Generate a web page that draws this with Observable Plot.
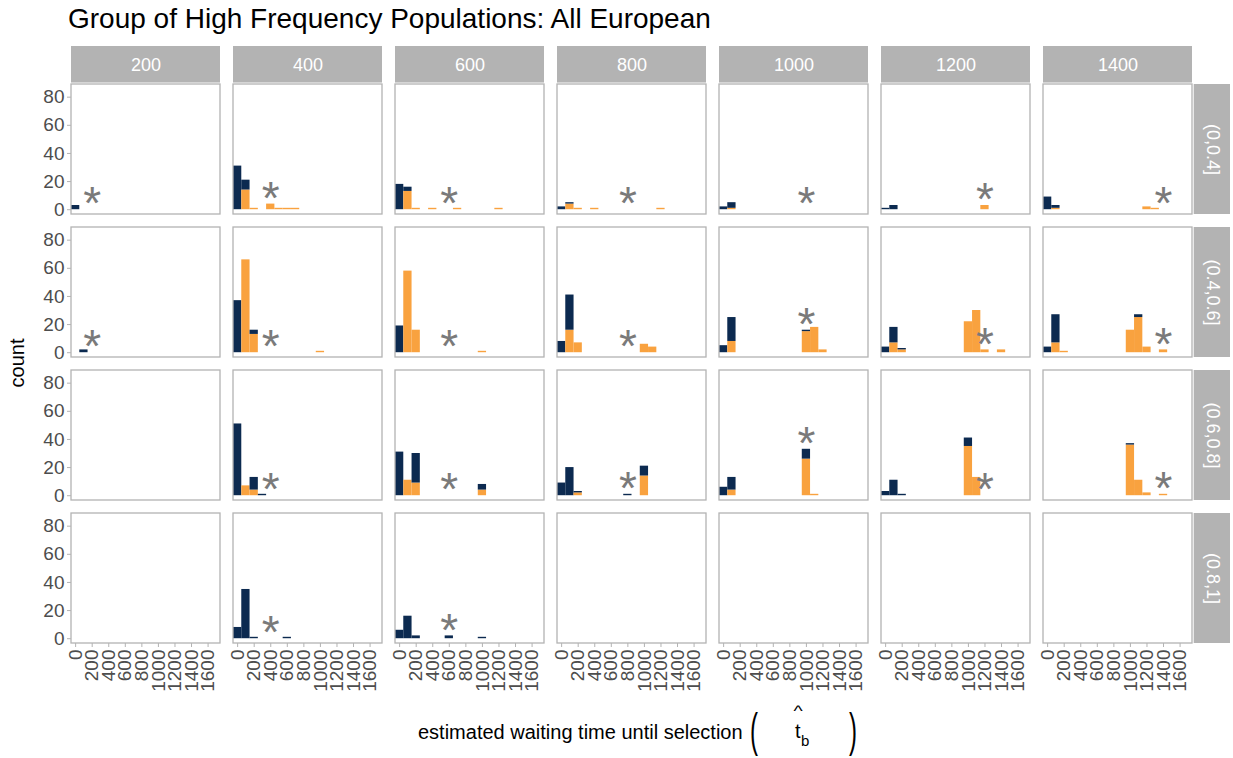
<!DOCTYPE html>
<html>
<head>
<meta charset="utf-8">
<script src="https://cdn.jsdelivr.net/npm/d3@7"></script>
<script src="https://cdn.jsdelivr.net/npm/@observablehq/plot@0.6"></script>
<style>
  body { margin: 0; background: #fff; font-family: "Liberation Sans", Arial, sans-serif; }
  #title { height: 40px; font-size: 28px; line-height: 38px; padding-left: 68px; color: #000; white-space: nowrap; }
</style>
</head>
<body>
<div id="title">Group of High Frequency Populations: All European</div>
<div id="chart"></div>
<script>
// Facet columns: true waiting time; facet rows: frequency class
const times = [200, 400, 600, 800, 1000, 1200, 1400];
const freqBins = ["(0,0.4]", "(0.4,0.6]", "(0.6,0.8]", "(0.8,1]"];
const xTicks = [0, 200, 400, 600, 800, 1000, 1200, 1400, 1600];
const yTicks = [0, 20, 40, 60, 80];
const binWidth = 100;

// Histogram counts per row: [true time, bin centre, dark count, light count]
const countsRow1 = [
  [200, 0, 3, 0],
  [400, 0, 31, 0], [400, 100, 7, 14], [400, 200, 0, 1], [400, 400, 0, 4],
  [400, 500, 0, 1], [400, 600, 0, 1], [400, 700, 0, 1],
  [600, 0, 18, 0], [600, 100, 3, 13], [600, 200, 0, 1], [600, 400, 0, 1],
  [600, 700, 0, 1], [600, 1200, 0, 1],
  [800, 0, 2, 0], [800, 100, 1, 4], [800, 200, 0, 1], [800, 400, 0, 1], [800, 1200, 0, 1],
  [1000, 0, 2, 0], [1000, 100, 4, 1],
  [1200, 0, 1, 0], [1200, 100, 3, 0], [1200, 1200, 0, 3],
  [1400, 0, 9, 0], [1400, 100, 2, 1], [1400, 1200, 0, 2], [1400, 1300, 0, 1]
];
const countsRow2 = [
  [200, 100, 2, 0],
  [400, 0, 37, 0], [400, 100, 0, 66], [400, 200, 3, 13], [400, 1000, 0, 1],
  [600, 0, 19, 0], [600, 100, 0, 58], [600, 200, 0, 16], [600, 1000, 0, 1],
  [800, 0, 8, 0], [800, 100, 25, 16], [800, 200, 0, 7], [800, 1000, 0, 6], [800, 1100, 0, 4],
  [1000, 0, 5, 0], [1000, 100, 17, 8], [1000, 1000, 1, 15], [1000, 1100, 0, 18], [1000, 1200, 0, 2],
  [1200, 0, 4, 0], [1200, 100, 11, 7], [1200, 200, 1, 2], [1200, 1000, 0, 22],
  [1200, 1100, 0, 30], [1200, 1200, 0, 2], [1200, 1400, 0, 2],
  [1400, 0, 4, 0], [1400, 100, 20, 7], [1400, 200, 0, 1], [1400, 1000, 0, 16],
  [1400, 1100, 2, 25], [1400, 1200, 0, 4], [1400, 1400, 0, 2]
];
const countsRow3 = [
  [400, 0, 51, 0], [400, 100, 0, 7], [400, 200, 9, 4], [400, 300, 1, 0],
  [600, 0, 31, 0], [600, 100, 0, 11], [600, 200, 21, 9], [600, 1000, 4, 4],
  [800, 0, 9, 0], [800, 100, 20, 0], [800, 200, 1, 2], [800, 800, 1, 0], [800, 1000, 7, 14],
  [1000, 0, 6, 0], [1000, 100, 9, 4], [1000, 1000, 7, 26], [1000, 1100, 0, 1],
  [1200, 0, 3, 0], [1200, 100, 11, 0], [1200, 200, 1, 0], [1200, 1000, 6, 35], [1200, 1100, 0, 13],
  [1400, 1000, 1, 36], [1400, 1100, 0, 11], [1400, 1200, 0, 2], [1400, 1400, 0, 1]
];
const countsRow4 = [
  [400, 0, 8, 0], [400, 100, 35, 0], [400, 200, 1, 0], [400, 600, 1, 0],
  [600, 0, 6, 0], [600, 100, 16, 0], [600, 200, 2, 0], [600, 600, 2, 0], [600, 1000, 1, 0]
];
const countsByRow = [countsRow1, countsRow2, countsRow3, countsRow4];

const seriesNames = ["light", "dark"];
const seriesColors = ["#f9a23f", "#0c2a50"];

// Stacked bar segments: light series at the bottom, dark series on top
const bars = [];
const stars = [];
countsByRow.forEach((rows, r) => {
  const freq = freqBins[r];
  for (const [time, bin, dark, light] of rows) {
    if (light > 0) bars.push({time, freq, bin, series: "light", y1: 0, y2: light});
    if (dark > 0) bars.push({time, freq, bin, series: "dark", y1: light, y2: light + dark});
  }
  // one asterisk per populated panel, sitting on the bar at the true time
  for (const time of times) {
    const inPanel = rows.filter(d => d[0] === time);
    if (!inPanel.length) continue;
    const atTrue = inPanel.find(d => d[1] === time);
    stars.push({time, freq, x: time, y: atTrue ? atTrue[2] + atTrue[3] : 0});
  }
});

const panels = times.flatMap(time => freqBins.map(freq => ({time, freq})));
const stripsTop = times.map(time => ({time, freq: freqBins[0]}));
const stripsRight = freqBins.map(freq => ({time: times[times.length - 1], freq}));

// Layout
const W = 1233, H = 718;
const mTop = 42, mBottom = 114, mLeft = 69, mRight = 39;
const padX = 0.079, padY = 0.093;
const stripSize = 37;
const panelW = d3.scaleBand(times, [mLeft, W - mRight]).paddingInner(padX).paddingOuter(0).bandwidth();
const panelH = d3.scaleBand(freqBins, [mTop, H - mBottom]).paddingInner(padY).paddingOuter(0).bandwidth();

const chart = Plot.plot({
  width: W,
  height: H,
  marginTop: mTop,
  marginBottom: mBottom,
  marginLeft: mLeft,
  marginRight: mRight,
  facet: {marginTop: 0, marginRight: 0, marginBottom: 0, marginLeft: 0},
  style: {fontFamily: "Liberation Sans, Arial, sans-serif", fontSize: "18px", background: "white"},
  fx: {domain: times, axis: null, paddingInner: padX, paddingOuter: 0},
  fy: {domain: freqBins, axis: null, paddingInner: padY, paddingOuter: 0},
  x: {domain: [-50, 1750]},
  y: {domain: [-3.4, 89]},
  color: {domain: seriesNames, range: seriesColors},
  marks: [
    // strip backgrounds
    Plot.rect(stripsTop, {fx: "time", fy: "freq", fill: "#b3b3b3",
      insetTop: -(stripSize + 1), insetBottom: panelH + 1}),
    Plot.rect(stripsRight, {fx: "time", fy: "freq", fill: "#b3b3b3",
      insetLeft: panelW + 1, insetRight: -(stripSize + 1)}),
    Plot.text(stripsTop, {fx: "time", fy: "freq", text: d => String(d.time), frameAnchor: "top",
      lineAnchor: "middle", textAnchor: "middle",
      dy: -(stripSize / 2 + 1), fill: "white", fontSize: 18}),
    Plot.text(stripsRight, {fx: "time", fy: "freq", text: "freq", frameAnchor: "right",
      lineAnchor: "middle", textAnchor: "middle",
      dx: stripSize / 2 + 1.5, rotate: 90, fill: "white", fontSize: 18}),
    // histogram bars
    Plot.rect(bars, {
      fx: "time", fy: "freq",
      x1: d => d.bin - binWidth / 2, x2: d => d.bin + binWidth / 2,
      y1: "y1", y2: "y2", fill: "series"
    }),
    // true waiting time
    Plot.text(stars, {fx: "time", fy: "freq", x: "x", y: "y", text: () => "*",
      fontSize: 46, dy: -5, fill: "#7a7a7a"}),
    // panel borders
    Plot.rect(panels, {fx: "time", fy: "freq", fill: "none", stroke: "#b3b3b3", strokeWidth: 1.3}),
    Plot.axisY(yTicks, {tickSize: 4, tickPadding: 3, fontSize: 19, fill: "#4d4d4d",
      stroke: "#b3b3b3", label: null, tickFormat: d => String(d)}),
    Plot.axisX(xTicks, {tickRotate: -90, tickSize: 4, tickPadding: 2, fontSize: 19,
      fill: "#4d4d4d", stroke: "#b3b3b3", label: null, tickFormat: d => String(d)})
  ]
});

document.getElementById("chart").appendChild(chart);

// Axis titles
const svg = d3.select(chart);
const font = "Liberation Sans, Arial, sans-serif";
svg.append("text")
  .attr("transform", `translate(24, ${(mTop + H - mBottom) / 2}) rotate(-90)`)
  .attr("text-anchor", "middle")
  .attr("font-family", font).attr("font-size", 20).attr("fill", "#000")
  .text("count");

const xl = svg.append("g").attr("font-family", font).attr("fill", "#000").attr("text-anchor", "start");
const base = 699;
xl.append("text").attr("x", 418).attr("y", base).attr("font-size", 20)
  .text("estimated waiting time until selection");
xl.append("text").attr("transform", `translate(750, ${base + 7}) scale(1, 1.95)`)
  .attr("font-size", 24).text("(");
xl.append("text").attr("x", 795).attr("y", base - 1).attr("font-size", 20).text("t");
xl.append("text").attr("transform", `translate(798, ${base - 23}) scale(1.4, 1)`)
  .attr("text-anchor", "middle").attr("font-size", 14).text("^");
xl.append("text").attr("x", 801).attr("y", base + 7).attr("font-size", 15).text("b");
xl.append("text").attr("transform", `translate(849, ${base + 7}) scale(1, 1.95)`)
  .attr("font-size", 24).text(")");
</script>
</body>
</html>
